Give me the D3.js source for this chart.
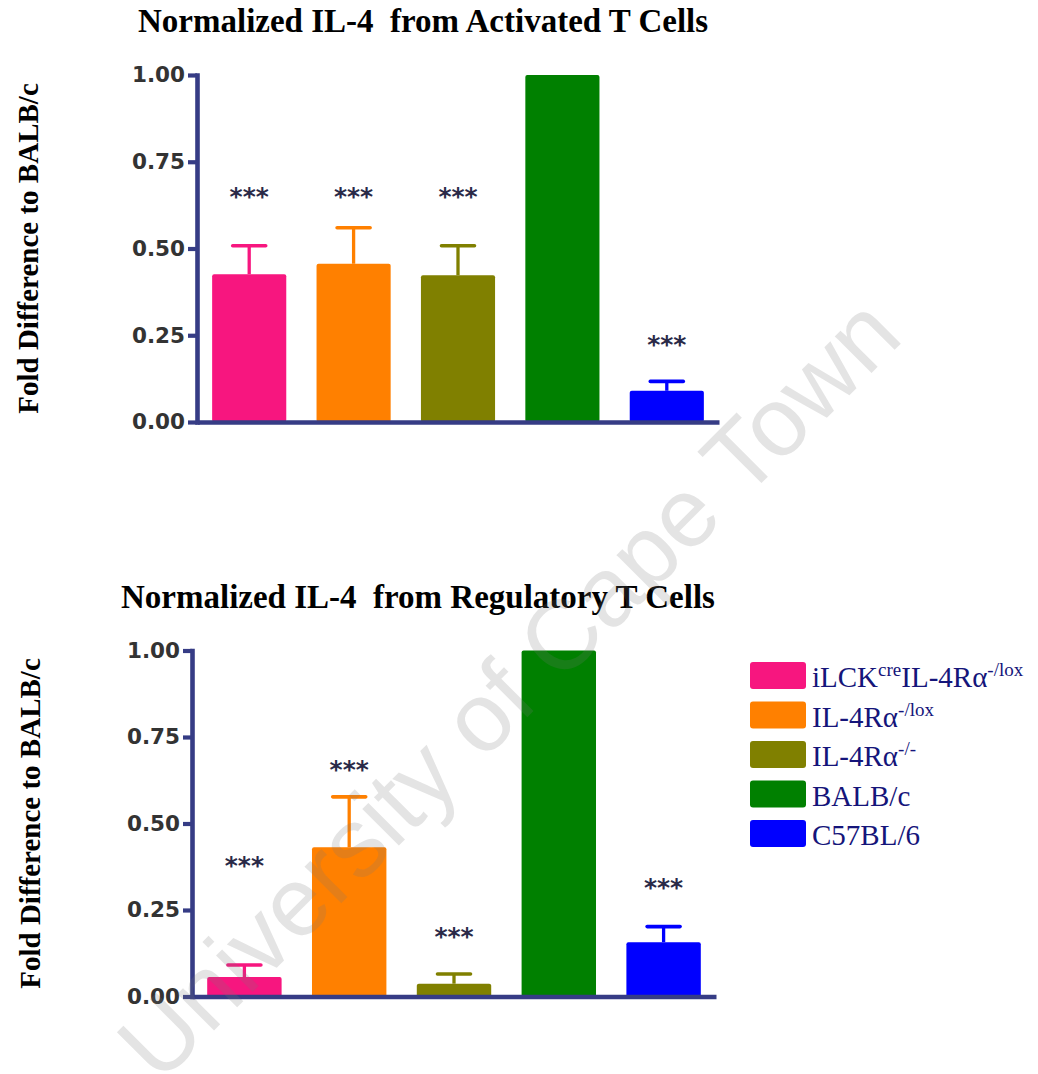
<!DOCTYPE html>
<html>
<head>
<meta charset="utf-8">
<script src="https://cdn.jsdelivr.net/npm/d3@7"></script>
<style>
  body { margin: 0; background: #fff; }
  text { white-space: pre; }
</style>
</head>
<body>
<script>
// groups, shared by both panels
var groups = ["iLCKcreIL-4Ra-/lox", "IL-4Ra-/lox", "IL-4Ra-/-", "BALB/c", "C57BL/6"]
var colors = ["#f7167f", "#ff8000", "#808000", "#008000", "#0000ff"]
var yTicks = [0, 0.25, 0.5, 0.75, 1.0]

// activated T cells (top)
var activatedMean = [0.426, 0.456, 0.423, 1.0, 0.090]
var activatedSem = [0.082, 0.104, 0.085, 0, 0.027]
var activatedStars = [0.661, 0.661, 0.661, null, 0.236]

// regulatory T cells (bottom)
var regulatoryMean = [0.056, 0.431, 0.037, 1.0, 0.157]
var regulatorySem = [0.035, 0.146, 0.028, 0, 0.045]
var regulatoryStars = [0.389, 0.669, 0.184, null, 0.327]

// legend labels: [text, superscript?]
var legendLabels = [
  [["iLCK", 0], ["cre", 1], ["IL-4R\u03b1", 0], ["-/lox", 1]],
  [["IL-4R\u03b1", 0], ["-/lox", 1]],
  [["IL-4R\u03b1", 0], ["-/-", 1]],
  [["BALB/c", 0]],
  [["C57BL/6", 0]]
]

var axisColor = "#363c85"

var svg = d3.select("body").append("svg")
    .attr("width", 1038)
    .attr("height", 1074)

function drawPanel(opts) {
  var x = d3.scaleBand()
      .domain(groups)
      .range([opts.left, opts.right])
      .paddingInner(0.29)
      .paddingOuter(0.145)
  var y = d3.scaleLinear()
      .domain([0, 1])
      .range([opts.bottom, opts.top])

  var g = svg.append("g")

  // title
  g.append("text")
      .attr("x", opts.titleX)
      .attr("y", opts.titleY)
      .attr("font-family", "Liberation Serif, Times New Roman, serif")
      .attr("font-weight", "bold")
      .attr("font-size", 33)
      .attr("fill", "#000")
      .text(opts.title)

  // y axis title
  g.append("text")
      .attr("transform", "translate(" + opts.yTitleX + "," + (opts.top + opts.bottom) / 2 + ") rotate(-90)")
      .attr("text-anchor", "middle")
      .attr("font-family", "Liberation Serif, Times New Roman, serif")
      .attr("font-weight", "bold")
      .attr("font-size", 29)
      .attr("fill", "#000")
      .text("Fold Difference to BALB/c")

  // bars
  g.selectAll(".bar")
      .data(opts.mean)
      .join("rect")
      .attr("class", "bar")
      .attr("x", function(d, i) { return x(groups[i]) })
      .attr("y", function(d) { return y(d) })
      .attr("width", x.bandwidth())
      .attr("height", function(d) { return y(0) - y(d) })
      .attr("rx", 2)
      .attr("fill", function(d, i) { return colors[i] })

  // error bars (upper only)
  var err = opts.mean.map(function(d, i) { return {i: i, m: d, s: opts.sem[i]} })
      .filter(function(d) { return d.s > 0 })
  var cx = function(d) { return x(groups[d.i]) + x.bandwidth() / 2 }

  g.selectAll(".stem")
      .data(err)
      .join("line")
      .attr("x1", cx).attr("x2", cx)
      .attr("y1", function(d) { return y(d.m) })
      .attr("y2", function(d) { return y(d.m + d.s) })
      .attr("stroke", function(d) { return colors[d.i] })
      .attr("stroke-width", 3.3)

  g.selectAll(".cap")
      .data(err)
      .join("line")
      .attr("x1", function(d) { return cx(d) - 16.5 })
      .attr("x2", function(d) { return cx(d) + 16.5 })
      .attr("y1", function(d) { return y(d.m + d.s) })
      .attr("y2", function(d) { return y(d.m + d.s) })
      .attr("stroke", function(d) { return colors[d.i] })
      .attr("stroke-width", 3.6)
      .attr("stroke-linecap", "round")

  // significance stars
  g.selectAll(".star")
      .data(opts.stars.map(function(d, i) { return {i: i, v: d} }).filter(function(d) { return d.v != null }))
      .join("text")
      .attr("x", cx)
      .attr("y", function(d) { return y(d.v) })
      .attr("dy", "0.5em")
      .attr("text-anchor", "middle")
      .attr("font-family", "DejaVu Sans, sans-serif")
      .attr("font-weight", "bold")
      .attr("font-size", 25)
      .attr("fill", "#2a2a48")
      .text("***")

  // x axis
  var xAxis = g.append("g")
      .attr("transform", "translate(0," + y(0) + ")")
      .call(d3.axisBottom(x).tickSize(0).tickSizeOuter(0).tickFormat(""))
  xAxis.select(".domain")
      .attr("stroke", axisColor)
      .attr("stroke-width", 4.6)
  xAxis.selectAll(".tick").remove()

  // y axis
  var yAxis = g.append("g")
      .attr("transform", "translate(" + opts.left + ",0)")
      .call(d3.axisLeft(y).tickValues(yTicks).tickFormat(d3.format(".2f"))
        .tickSize(9).tickSizeOuter(0).tickPadding(3))
  yAxis.select(".domain")
      .attr("stroke", axisColor)
      .attr("stroke-width", 4.6)
      .attr("stroke-linecap", "square")
  yAxis.selectAll(".tick line")
      .attr("stroke", axisColor)
      .attr("stroke-width", 4.2)
  yAxis.selectAll(".tick text")
      .attr("font-family", "DejaVu Sans, sans-serif")
      .attr("font-weight", "bold")
      .attr("font-size", 21.5)
      .attr("fill", "#333")
}

drawPanel({
  title: "Normalized IL-4  from Activated T Cells",
  titleX: 138, titleY: 32,
  yTitleX: 38,
  left: 197, right: 719, top: 75, bottom: 422,
  mean: activatedMean, sem: activatedSem, stars: activatedStars
})

drawPanel({
  title: "Normalized IL-4  from Regulatory T Cells",
  titleX: 121, titleY: 608,
  yTitleX: 40,
  left: 192, right: 716, top: 650.5, bottom: 996.5,
  mean: regulatoryMean, sem: regulatorySem, stars: regulatoryStars
})

// legend
var legend = svg.append("g").attr("transform", "translate(750,662)")
var rows = legend.selectAll(".row")
    .data(legendLabels)
    .join("g")
    .attr("transform", function(d, i) { return "translate(0," + i * 39.5 + ")" })

rows.append("rect")
    .attr("width", 56)
    .attr("height", 27)
    .attr("rx", 3)
    .attr("fill", function(d, i) { return colors[i] })

var labels = rows.append("text")
    .attr("x", 62)
    .attr("y", 25)
    .attr("font-family", "Liberation Serif, Times New Roman, serif")
    .attr("font-size", 29)
    .attr("fill", "#15157a")

labels.selectAll("tspan")
    .data(function(d) { return d })
    .join("tspan")
    .attr("font-size", function(d) { return d[1] ? 19 : 29 })
    .attr("dy", function(d, i, nodes) {
      // raise superscripts, drop back after
      var prev = i > 0 ? nodes[i - 1].__data__[1] : 0
      if (d[1] && !prev) return -11
      if (!d[1] && prev) return 11
      return 0
    })
    .text(function(d) { return d[0] })

// watermark
svg.append("text")
    .attr("transform", "translate(508,688) rotate(-45)")
    .attr("text-anchor", "middle")
    .attr("dy", "0.35em")
    .attr("font-family", "Liberation Sans, Arial, sans-serif")
    .attr("font-size", 98)
    .attr("fill", "#777")
    .attr("fill-opacity", 0.2)
    .text("University of Cape Town")
</script>
</body>
</html>
